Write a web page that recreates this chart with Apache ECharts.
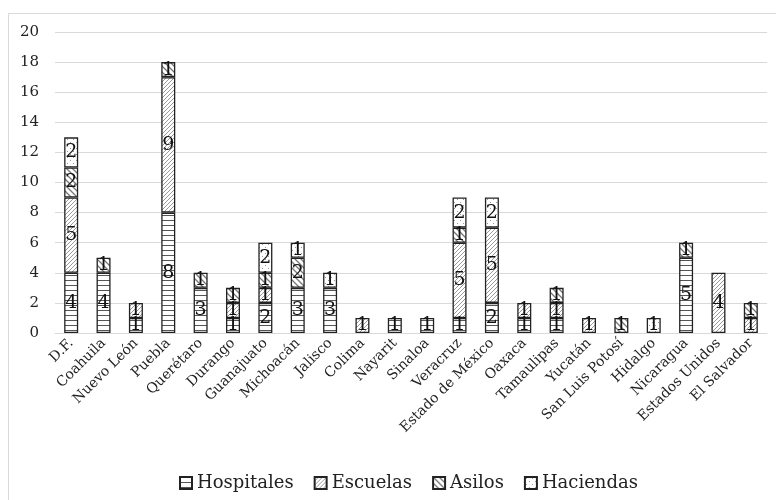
<!DOCTYPE html>
<html>
<head>
<meta charset="utf-8">
<script src="https://cdn.jsdelivr.net/npm/echarts@6/dist/echarts.min.js"></script>
<style>
  html, body { margin: 0; padding: 0; background: #fff; }
  #chart { width: 776px; height: 500px; }
</style>
</head>
<body>
<div id="chart"></div>
<script>
// categorias y series (de abajo hacia arriba)
var estados = ['D.F.', 'Coahuila', 'Nuevo León', 'Puebla', 'Querétaro', 'Durango', 'Guanajuato',
  'Michoacán', 'Jalisco', 'Colima', 'Nayarit', 'Sinaloa', 'Veracruz', 'Estado de México',
  'Oaxaca', 'Tamaulipas', 'Yucatán', 'San Luis Potosí', 'Hidalgo', 'Nicaragua',
  'Estados Unidos', 'El Salvador'];
var hospitales = [4, 4, 1, 8, 3, 1, 2, 3, 3, 0, 1, 1, 1, 2, 1, 1, 0, 0, 0, 5, 0, 0];
var escuelas   = [5, 0, 1, 9, 0, 1, 1, 0, 0, 1, 0, 0, 5, 5, 1, 1, 1, 0, 0, 0, 4, 1];
var asilos     = [2, 1, 0, 1, 1, 1, 1, 2, 0, 0, 0, 0, 1, 0, 0, 1, 0, 1, 0, 1, 0, 1];
var haciendas  = [2, 0, 0, 0, 0, 0, 2, 1, 1, 0, 0, 0, 2, 2, 0, 0, 0, 0, 1, 0, 0, 0];
var yTicks = { min: 0, max: 20, interval: 2 };

var font = "'DejaVu Serif', 'Liberation Serif', serif";

// tramas de relleno
function tile(w, h, draw) {
  var c = document.createElement('canvas');
  c.width = w; c.height = h;
  var ctx = c.getContext('2d');
  ctx.fillStyle = '#fff';
  ctx.fillRect(0, 0, w, h);
  draw(ctx);
  return { image: c, repeat: 'repeat' };
}
var patHosp = tile(8, 5, function (ctx) {
  ctx.fillStyle = '#555';
  ctx.fillRect(0, 0, 8, 1);
});
var patEsc = tile(4, 4, function (ctx) {
  ctx.strokeStyle = '#9a9a9a';
  ctx.lineWidth = 1;
  ctx.beginPath();
  ctx.moveTo(-1, 5); ctx.lineTo(5, -1);
  ctx.moveTo(-1, 1); ctx.lineTo(1, -1);
  ctx.moveTo(3, 5); ctx.lineTo(5, 3);
  ctx.stroke();
});
var patAsi = tile(6, 6, function (ctx) {
  ctx.strokeStyle = '#777';
  ctx.lineWidth = 1.3;
  ctx.beginPath();
  ctx.moveTo(-1, -1); ctx.lineTo(7, 7);
  ctx.moveTo(-1, 5); ctx.lineTo(1, 7);
  ctx.moveTo(5, -1); ctx.lineTo(7, 1);
  ctx.stroke();
});
var patHac = tile(6, 6, function (ctx) {
  ctx.fillStyle = '#999';
  ctx.fillRect(1, 1, 1, 1);
  ctx.fillRect(4, 4, 1, 1);
});

function serie(name, data, pat) {
  return {
    name: name,
    type: 'bar',
    stack: 'total',
    barWidth: 14,
    data: data.map(function (v) { return v === 0 ? '-' : v; }),
    itemStyle: { color: pat, borderColor: '#222', borderWidth: 1.3 },
    label: {
      show: true,
      position: 'inside',
      color: '#111',
      fontFamily: font,
      fontSize: 19
    }
  };
}

var chart = echarts.init(document.getElementById('chart'));
var option = {
  animation: false,
  backgroundColor: '#fff',
  graphic: [{
    type: 'rect',
    shape: { x: 8.5, y: 13.5, width: 800, height: 600 },
    style: { fill: 'none', stroke: '#d9d9d9', lineWidth: 1 },
    silent: true
  }],
  grid: { left: 55, right: 9, top: 32, bottom: 167 },
  legend: {
    bottom: 3,
    left: 174,
    icon: 'rect',
    itemWidth: 12,
    itemHeight: 12,
    itemGap: 20,
    textStyle: { fontFamily: font, fontSize: 18, color: '#222' },
    data: ['Hospitales', 'Escuelas', 'Asilos', 'Haciendas']
  },
  xAxis: {
    type: 'category',
    data: estados,
    axisLine: { lineStyle: { color: '#d9d9d9' } },
    axisTick: { show: false },
    axisLabel: {
      interval: 0,
      rotate: 45,
      margin: 8,
      fontFamily: font,
      fontSize: 14,
      color: '#222'
    }
  },
  yAxis: {
    type: 'value',
    min: yTicks.min,
    max: yTicks.max,
    interval: yTicks.interval,
    axisLine: { show: false },
    axisTick: { show: false },
    splitLine: { lineStyle: { color: '#d9d9d9', width: 1 } },
    axisLabel: { fontFamily: font, fontSize: 15, color: '#222', margin: 16 }
  },
  series: [
    serie('Hospitales', hospitales, patHosp),
    serie('Escuelas', escuelas, patEsc),
    serie('Asilos', asilos, patAsi),
    serie('Haciendas', haciendas, patHac)
  ]
};
chart.setOption(option);
</script>
</body>
</html>
